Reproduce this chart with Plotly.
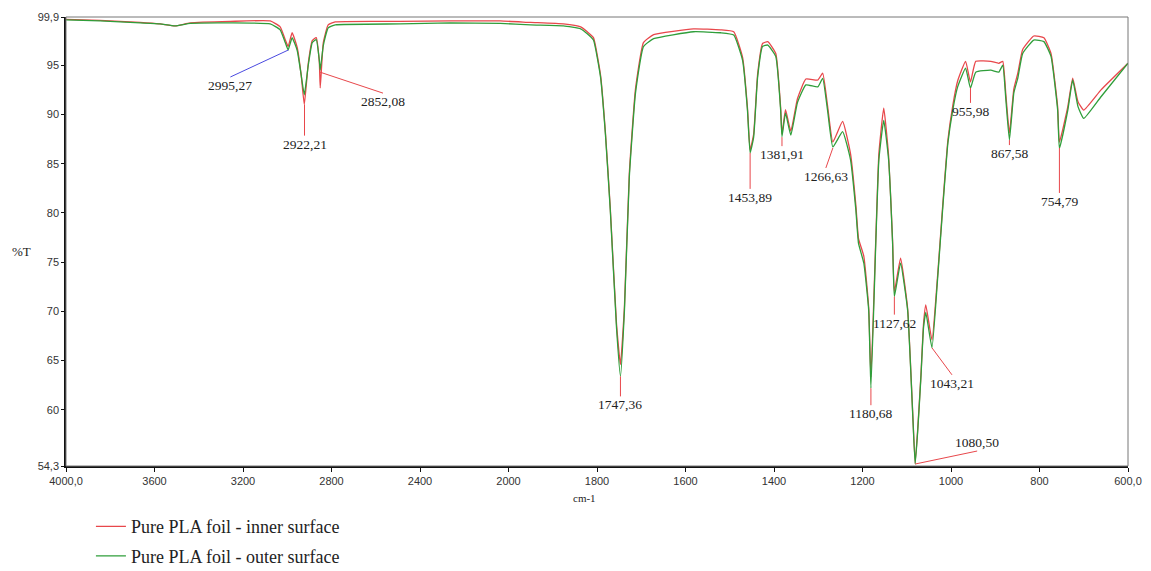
import plotly.graph_objects as go

# ---- data ----
wavenumber = [4000, 3846, 3665, 3575, 3507, 3439, 3258, 3077, 3032, 3009, 2996, 2978, 2955, 2937, 2923,
              2905, 2887, 2869, 2855, 2851, 2837, 2815, 2783, 2489, 2263, 2037, 1950, 1876, 1837, 1822,
              1808, 1792, 1781, 1770, 1756, 1747, 1738, 1727, 1713, 1695, 1672, 1582, 1521, 1491, 1471,
              1460, 1454, 1446, 1437, 1426, 1414, 1396, 1385, 1382, 1374, 1362, 1347, 1328, 1301, 1290,
              1279, 1267, 1245, 1227, 1215, 1209, 1197, 1186, 1181, 1170, 1163, 1152, 1141, 1132, 1128,
              1114, 1098, 1087, 1081, 1075, 1068, 1062, 1057, 1043, 1030, 1019, 1007, 996, 985, 967,
              956, 944, 910, 892, 883, 876, 868, 858, 849, 838, 813, 790, 774, 759, 755,
              736, 725, 713, 700, 661, 600]

outer_T = [99.6, 99.5, 99.3, 99.2, 99.0, 99.25, 99.3, 99.2, 98.6, 97.3, 96.55, 97.8, 96.5, 94.0, 92.0,
           95.0, 97.3, 97.6, 95.5, 94.5, 97.0, 98.8, 99.1, 99.2, 99.3, 99.25, 99.1, 99.0, 98.7, 98.2,
           97.56, 93.8, 88.0, 80.3, 68.4, 63.4, 70.1, 83.6, 92.2, 96.9, 97.7, 98.4, 98.3, 98.07, 95.5,
           90.45, 86.1, 87.7, 93.8, 96.9, 97.05, 95.9, 90.45, 87.74, 90.15, 87.9, 91.2, 93.0, 92.8, 93.67,
           90.45, 86.7, 88.25, 85.4, 80.3, 76.9, 74.9, 70.1, 62.2, 76.9, 85.4, 89.4, 85.4, 76.9, 71.5,
           74.9, 70.1, 60.0, 54.5, 58.0, 63.3, 68.4, 69.9, 66.3, 73.5, 80.3, 87.1, 90.45, 92.8, 94.7,
           92.66, 94.3, 94.5, 94.3, 95.0, 91.5, 87.4, 92.2, 93.7, 96.2, 97.56, 97.4, 95.9, 90.45, 86.56,
           90.45, 93.5, 90.8, 89.6, 91.8, 95.2]

inner_T = [99.65, 99.55, 99.35, 99.2, 99.0, 99.3, 99.45, 99.5, 98.9, 97.6, 96.9, 98.3, 96.8, 94.0, 91.0,
           95.2, 97.5, 97.8, 95.3, 92.7, 97.3, 99.1, 99.4, 99.45, 99.5, 99.5, 99.35, 99.2, 98.9, 98.4,
           97.8, 94.0, 88.2, 80.5, 68.8, 64.6, 70.5, 84.0, 92.6, 97.3, 98.1, 98.7, 98.6, 98.4, 95.8,
           90.7, 86.4, 88.0, 94.1, 97.2, 97.4, 96.2, 90.7, 88.0, 90.5, 88.3, 91.6, 93.6, 93.5, 94.2,
           90.9, 87.2, 89.3, 86.0, 80.8, 77.4, 75.6, 70.4, 63.3, 77.3, 86.0, 90.65, 85.8, 77.2, 72.0,
           75.4, 70.3, 60.2, 54.6, 58.2, 63.5, 68.8, 70.65, 67.1, 73.8, 80.6, 87.4, 90.9, 93.4, 95.4,
           93.3, 95.4, 95.4, 95.2, 95.4, 92.0, 88.1, 92.6, 94.2, 96.6, 97.97, 97.8, 96.2, 90.8, 87.2,
           90.8, 93.7, 91.3, 90.45, 92.5, 95.2]

x_tick_values = [4000, 3600, 3200, 2800, 2400, 2000, 1800, 1600, 1400, 1200, 1000, 800, 600]
x_tick_labels = ["4000,0", "3600", "3200", "2800", "2400", "2000", "1800", "1600",
                 "1400", "1200", "1000", "800", "600,0"]
y_tick_values = [54.3, 60, 65, 70, 75, 80, 85, 90, 95, 99.9]
y_tick_labels = ["54,3", "60", "65", "70", "75", "80", "85", "90", "95", "99,9"]

peak_labels = ["2995,27", "2922,21", "2852,08", "1747,36", "1453,89", "1381,91", "1266,63",
               "1180,68", "1127,62", "1080,50", "1043,21", "955,98", "867,58", "754,79"]
peak_wn = [2995, 2922, 2852, 1747, 1454, 1382, 1267, 1181, 1128, 1081, 1043, 956, 868, 755]
peak_T = [96.55, 91.0, 94.3, 63.4, 86.1, 87.7, 86.6, 62.2, 71.5, 54.5, 66.3, 92.7, 87.4, 86.6]
# leader-line end offsets (pixels) and the side of the label that the line meets
peak_dx = [-58, 0, 63, 0, 0, 0, -7, 0, 0, 62, 20, 0, 0, 0]
peak_dy = [27, 31, 21, 20, 36, 9, 20, 17, 18, -13, 27, 15, 5, 45]
peak_side = ["top"] * 9 + ["bottom"] + ["top"] * 4
peak_line_color = ["#4a4ae0"] + ["#e8474b"] * 13


# spectrometer axis: 400 cm-1 per division above 2000, 200 cm-1 per division below
def axis_pos(w):
    return (4000 - w) / 400 if w >= 2000 else 5 + (2000 - w) / 200


xs = [axis_pos(w) for w in wavenumber]

fig = go.Figure()
fig.add_trace(go.Scatter(x=xs, y=inner_T, mode="lines", name="Pure PLA foil - inner surface",
                         line=dict(color="#e8474b", width=1.3, shape="spline", smoothing=0.4),
                         legendgroup="a"))
fig.add_trace(go.Scatter(x=xs, y=outer_T, mode="lines", name="Pure PLA foil - outer surface",
                         line=dict(color="#2f9e3a", width=1.3, shape="spline", smoothing=0.4),
                         legendgroup="b"))

for lab, w, t, dx, dy, side, c in zip(peak_labels, peak_wn, peak_T, peak_dx, peak_dy,
                                        peak_side, peak_line_color):
    fig.add_annotation(x=axis_pos(w), y=t, text=lab, showarrow=True, arrowhead=0, arrowwidth=1,
                       arrowcolor=c, ax=dx, ay=dy, standoff=0, xanchor="center", yanchor=side,
                       borderpad=0,
                       font=dict(family="Liberation Serif", size=13.5, color="#222"))

fig.add_annotation(x=-0.042, y=0.477, xref="paper", yref="paper", text="%T", showarrow=False,
                   xanchor="center", yanchor="middle",
                   font=dict(family="Liberation Serif", size=13, color="#222"))
fig.add_annotation(x=0.488, y=-0.072, xref="paper", yref="paper", text="cm-1", showarrow=False,
                   xanchor="center", yanchor="middle",
                   font=dict(family="Liberation Serif", size=11, color="#222"))

fig.add_shape(type="rect", xref="paper", yref="paper", x0=0, y0=0, x1=1, y1=1,
              line=dict(color="#777", width=1))

fig.update_xaxes(range=[0, 12], tickvals=[axis_pos(v) for v in x_tick_values], ticktext=x_tick_labels,
                 showgrid=False, zeroline=False, showline=True, linecolor="#111", linewidth=1.5,
                 ticks="outside", ticklen=4, tickcolor="#111",
                 tickfont=dict(family="Liberation Sans", size=11, color="#333"))
fig.update_yaxes(range=[54.3, 99.9], tickvals=y_tick_values, ticktext=y_tick_labels,
                 showgrid=False, zeroline=False, showline=True, linecolor="#111", linewidth=1.5,
                 ticks="outside", ticklen=3, tickcolor="#111",
                 tickfont=dict(family="Liberation Sans", size=11, color="#333"))

fig.update_layout(
    width=1151, height=571, paper_bgcolor="white", plot_bgcolor="white",
    margin=dict(l=66, r=23, t=17, b=105, autoexpand=False),
    legend=dict(xref="container", yref="container", x=0.079, y=0.11,
                xanchor="left", yanchor="top", orientation="v",
                font=dict(family="Liberation Serif", size=18, color="#222"),
                tracegroupgap=3, bgcolor="rgba(0,0,0,0)"),
    showlegend=True,
)

fig.write_html("out.html")
